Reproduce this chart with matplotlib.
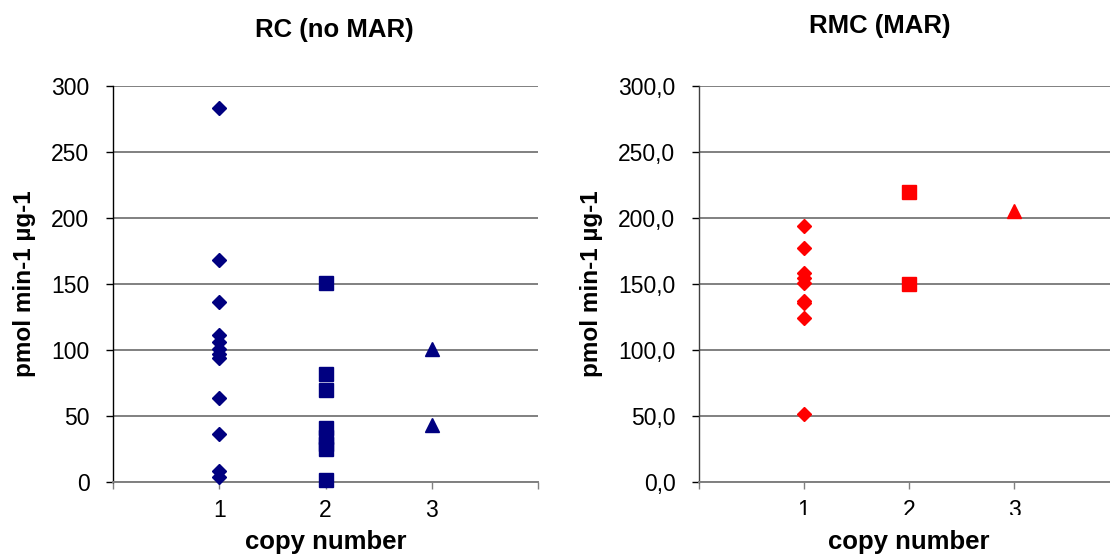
import matplotlib
matplotlib.use("Agg")
import matplotlib.pyplot as plt
from matplotlib.transforms import Bbox, TransformedBbox

plt.rcParams['font.family'] = ['Liberation Sans', 'DejaVu Sans']

# RC (no MAR) values, pmol min-1 ug-1, by copy number
rc_copy1 = [283, 168, 136.5, 111, 106, 101, 97, 94, 63.5, 36.5, 8.5, 3.5]
rc_copy2 = [151, 82, 70, 41, 34, 29, 25, 1.5]
rc_copy3 = [101, 43.5]

# RMC (MAR)
rmc_copy1 = [194, 177.5, 158.5, 154.5, 151, 137, 135.5, 124.5, 51.5]
rmc_copy2 = [219.5, 150]
rmc_copy3 = [205]

copy_ticks = [1, 2, 3]
y_ticks = [0, 50, 100, 150, 200, 250, 300]
y_labels_left = ['0', '50', '100', '150', '200', '250', '300']
y_labels_right = ['0,0', '50,0', '100,0', '150,0', '200,0', '250,0', '300,0']

navy = '#000080'
red = '#ff0000'
grid_col = '#808080'

fig = plt.figure(figsize=(11.1, 5.56), dpi=100)
ax1 = fig.add_axes([113/1110, 74/556, 425/1110, 396/556])
ax2 = fig.add_axes([699/1110, 74/556, 420/1110, 396/556])


def style(ax, ylabels):
    ax.set_xlim(0, 4)
    ax.set_ylim(0, 300)
    ax.set_yticks(y_ticks)
    ax.set_yticklabels(ylabels)
    ax.set_xticks([0, 1, 2, 3, 4])
    ax.set_xticklabels([''] + [str(c) for c in copy_ticks] + [''])
    ax.grid(axis='y', color=grid_col, linewidth=1.4)
    ax.set_axisbelow(True)
    for s in ['top', 'right']:
        ax.spines[s].set_visible(False)
    ax.spines['left'].set_color('black')
    ax.spines['left'].set_linewidth(1.0)
    ax.spines['bottom'].set_color(grid_col)
    ax.spines['bottom'].set_linewidth(1.4)
    ax.tick_params(axis='y', length=5, width=1, color='black', pad=12, labelsize=16.5)
    ax.tick_params(axis='x', length=5, width=1, color=grid_col, pad=7, labelsize=16.5)
    ax.set_ylabel('pmol min-1 µg-1', fontsize=17.5, fontweight='bold', labelpad=11)
    ax.set_xlabel('copy number', fontsize=18.5, fontweight='bold', labelpad=6)


ax1.plot([1] * len(rc_copy1), rc_copy1, 'D', color=navy, ms=7.5, mec=navy, ls='none', clip_on=False, zorder=3)
ax1.plot([2] * len(rc_copy2), rc_copy2, 's', color=navy, ms=10, mec=navy, ls='none', clip_on=False, zorder=3)
ax1.plot([3] * len(rc_copy3), rc_copy3, '^', color=navy, ms=10, mec=navy, ls='none', clip_on=False, zorder=3)
style(ax1, y_labels_left)
ax1.set_title('RC (no MAR)', fontsize=18.5, fontweight='bold', pad=35, x=0.52)

ax2.plot([1] * len(rmc_copy1), rmc_copy1, 'D', color=red, ms=7.5, mec=red, ls='none', clip_on=False, zorder=3)
ax2.plot([2] * len(rmc_copy2), rmc_copy2, 's', color=red, ms=10, mec=red, ls='none', clip_on=False, zorder=3)
ax2.plot([3] * len(rmc_copy3), rmc_copy3, '^', color=red, ms=10, mec=red, ls='none', clip_on=False, zorder=3)
style(ax2, y_labels_right)
ax2.spines['left'].set_color('#404040')
ax2.set_title('RMC (MAR)', fontsize=18.5, fontweight='bold', pad=38, x=0.43)

# the right panel's tick numbers are cut off at the bottom in the original
for lab in ax2.get_xticklabels():
    lab.set_clip_box(TransformedBbox(Bbox([[0, 40.7 / 556], [1, 1]]), fig.transFigure))
    lab.set_clip_on(True)

fig.savefig('out.png', dpi=100)
